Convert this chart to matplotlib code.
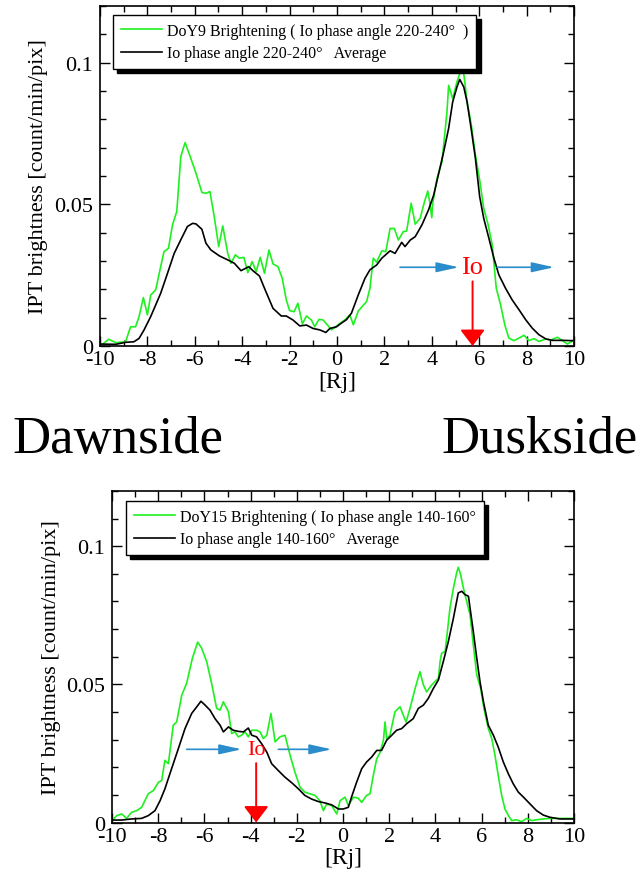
import matplotlib
matplotlib.use('Agg')
import matplotlib.pyplot as plt
from matplotlib.ticker import MultipleLocator, FuncFormatter

plt.rcParams['font.family'] = ['Liberation Serif', 'DejaVu Serif']
plt.rcParams['axes.unicode_minus'] = False

# --- DoY9 panel (Io phase angle 220-240) ---
doy9_x = [-9.98, -9.63, -9.34, -8.92, -8.71, -8.50, -8.35, -8.17, -8.00, -7.86,
          -7.65, -7.44, -7.30, -7.11, -6.94, -6.76, -6.59, -6.41, -6.17, -5.95,
          -5.70, -5.53, -5.36, -5.18, -4.99, -4.82, -4.61, -4.47, -4.29, -4.12,
          -3.93, -3.76, -3.58, -3.41, -3.24, -3.06, -2.87, -2.70, -2.49, -2.31,
          -2.14, -2.00, -1.81, -1.65, -1.46, -1.29, -1.08, -0.94, -0.76, -0.59,
          -0.40, -0.23, -0.05, 0.12, 0.33,
          0.54, 0.69, 0.90, 1.25, 1.39, 1.53, 1.67, 1.89, 2.06, 2.24,
          2.42, 2.59, 2.80, 2.94, 3.13, 3.30, 3.51, 3.69, 3.83, 3.91,
          4.00, 4.03, 4.22, 4.43, 4.64, 4.71, 4.88, 5.06, 5.20, 5.35,
          5.49, 5.67, 5.84, 6.02, 6.19, 6.38, 6.55, 6.72, 6.90, 7.08,
          7.25, 7.46, 7.68, 7.89, 8.10, 8.31, 8.52, 8.81, 9.02, 9.30,
          9.51, 9.72, 9.87, 10.0]
doy9_y = [0.0000, 0.0024, 0.0012, 0.0015, 0.0068, 0.0068, 0.0104, 0.0171, 0.0110, 0.0180,
          0.0198, 0.0280, 0.0333, 0.0345, 0.0428, 0.0475, 0.0669, 0.0718, 0.0663, 0.0610,
          0.0542, 0.0539, 0.0545, 0.0457, 0.0351, 0.0424, 0.0327, 0.0292, 0.0322, 0.0310,
          0.0313, 0.0259, 0.0298, 0.0263, 0.0313, 0.0257, 0.0339, 0.0290, 0.0280, 0.0239,
          0.0163, 0.0125, 0.0121, 0.0151, 0.0078, 0.0106, 0.0092, 0.0068, 0.0094, 0.0092,
          0.0074, 0.0057, 0.0068, 0.0080, 0.0092,
          0.0110, 0.0075, 0.0124, 0.0157, 0.0204, 0.0310, 0.0296, 0.0336, 0.0333, 0.0415,
          0.0415, 0.0374, 0.0404, 0.0406, 0.0504, 0.0430, 0.0451, 0.0509, 0.0547, 0.0509,
          0.0453, 0.0498, 0.0592, 0.0650, 0.0826, 0.0920, 0.0873, 0.0932, 0.0967, 0.0961,
          0.0861, 0.0779, 0.0674, 0.0586, 0.0486, 0.0427, 0.0357, 0.0204, 0.0146, 0.0075,
          0.0028, 0.0019, 0.0028, 0.0038, 0.0019, 0.0026, 0.0016, 0.0025, 0.0021, 0.0031,
          0.0019, 0.0007, 0.0014, 0.0021]

avg220_x = [-9.98, -9.34, -8.92, -8.57, -8.35, -8.14, -7.86, -7.44, -7.15, -6.87,
            -6.59, -6.31, -6.09, -5.95, -5.70, -5.53, -5.32, -4.96, -4.61, -4.33,
            -4.05, -3.72, -3.55, -3.27, -3.06, -2.70, -2.35, -2.14, -1.86, -1.57,
            -1.29, -1.01, -0.73, -0.47, -0.30, -0.02,
            0.19, 0.40, 0.61, 0.90, 1.18, 1.39, 1.67, 1.89, 2.24, 2.45,
            2.73, 2.87, 3.09, 3.30, 3.58, 3.86, 4.08, 4.29, 4.50, 4.71,
            4.88, 5.06, 5.18, 5.35, 5.49, 5.67, 5.84, 6.02, 6.19, 6.41,
            6.62, 6.83, 7.11, 7.39, 7.68, 7.96, 8.24, 8.52, 8.81, 9.09,
            9.51, 9.94]
avg220_y = [0.0007, 0.0006, 0.0013, 0.0015, 0.0027, 0.0057, 0.0104, 0.0186, 0.0257, 0.0327,
            0.0375, 0.0422, 0.0433, 0.0431, 0.0412, 0.0363, 0.0339, 0.0318, 0.0304, 0.0292,
            0.0266, 0.0280, 0.0266, 0.0247, 0.0204, 0.0133, 0.0106, 0.0106, 0.0092, 0.0071,
            0.0074, 0.0062, 0.0057, 0.0048, 0.0062, 0.0068,
            0.0081, 0.0093, 0.0116, 0.0181, 0.0239, 0.0269, 0.0286, 0.0310, 0.0336, 0.0327,
            0.0366, 0.0351, 0.0374, 0.0386, 0.0427, 0.0480, 0.0533, 0.0609, 0.0685, 0.0768,
            0.0861, 0.0914, 0.0941, 0.0914, 0.0861, 0.0762, 0.0662, 0.0527, 0.0451, 0.0380,
            0.0310, 0.0251, 0.0204, 0.0163, 0.0128, 0.0093, 0.0063, 0.0040, 0.0025, 0.0020,
            0.0020, 0.0019]

# --- DoY15 panel (Io phase angle 140-160) ---
doy15_x = [-10.0, -9.80, -9.58, -9.37, -9.15, -8.93, -8.72, -8.43, -8.21, -7.99,
           -7.85, -7.71, -7.56, -7.35, -7.20, -6.98, -6.77, -6.52, -6.29, -6.12,
           -5.90, -5.69, -5.47, -5.32, -5.18, -4.96, -4.82, -4.68, -4.53, -4.39,
           -4.24, -4.10, -3.95, -3.74, -3.59, -3.45, -3.30, -3.12, -2.94, -2.73,
           -2.51, -2.29, -2.08, -1.86, -1.65, -1.43, -1.21, -1.00, -0.85, -0.71,
           -0.49, -0.27, -0.13,
           0.09, 0.23, 0.45, 0.66, 0.81, 1.02, 1.17, 1.31, 1.46, 1.60,
           1.75, 1.82, 1.89, 2.03, 2.25, 2.47, 2.61, 2.73, 2.90, 3.12,
           3.33, 3.48, 3.62, 3.84, 3.98, 4.13, 4.20, 4.27, 4.42, 4.52,
           4.63, 4.78, 4.92, 4.99, 5.09, 5.21, 5.35, 5.50, 5.64, 5.79,
           5.96, 6.10, 6.29, 6.44, 6.58, 6.72, 6.87, 7.01, 7.16, 7.30,
           7.52, 7.73, 7.95, 8.17, 8.38, 8.67, 8.96, 9.39, 9.83, 10.0]
doy15_y = [0.0007, 0.0025, 0.0031, 0.0015, 0.0037, 0.0043, 0.0055, 0.0104, 0.0116, 0.0146,
           0.0152, 0.0225, 0.0213, 0.0352, 0.0364, 0.0461, 0.0504, 0.0595, 0.0653, 0.0631,
           0.0582, 0.0504, 0.0413, 0.0407, 0.0437, 0.0401, 0.0322, 0.0328, 0.0310, 0.0316,
           0.0328, 0.0310, 0.0334, 0.0334, 0.0328, 0.0304, 0.0316, 0.0395, 0.0292, 0.0310,
           0.0316, 0.0243, 0.0182, 0.0128, 0.0110, 0.0104, 0.0098, 0.0079, 0.0043, 0.0067,
           0.0061, 0.0031, 0.0079,
           0.0092, 0.0061, 0.0092, 0.0088, 0.0073, 0.0098, 0.0104, 0.0170, 0.0231, 0.0253,
           0.0298, 0.0364, 0.0304, 0.0316, 0.0401, 0.0419, 0.0388, 0.0364, 0.0413, 0.0485,
           0.0546, 0.0498, 0.0473, 0.0498, 0.0510, 0.0522, 0.0582, 0.0613, 0.0619, 0.0692,
           0.0776, 0.0849, 0.0904, 0.0924, 0.0898, 0.0849, 0.0801, 0.0752, 0.0643, 0.0534,
           0.0485, 0.0413, 0.0340, 0.0304, 0.0243, 0.0170, 0.0098, 0.0049, 0.0025, 0.0007,
           0.0010, 0.0003, 0.0015, 0.0007, 0.0010, 0.0013, 0.0015, 0.0015, 0.0015, 0.0015]

avg140_x = [-10.0, -9.58, -9.15, -8.72, -8.43, -8.14, -7.92, -7.71, -7.42, -7.13,
            -6.84, -6.55, -6.33, -6.15, -5.97, -5.76, -5.54, -5.32, -5.18, -4.96,
            -4.75, -4.53, -4.31, -4.10, -3.95, -3.74, -3.52, -3.30, -3.09, -2.80,
            -2.51, -2.22, -1.93, -1.65, -1.36, -1.07, -0.78, -0.49, -0.20, 0.01,
            0.23,
            0.38, 0.59, 0.81, 1.02, 1.24, 1.46, 1.67, 1.89, 2.11, 2.32,
            2.54, 2.76, 3.04, 3.26, 3.48, 3.69, 3.91, 4.13, 4.34, 4.56,
            4.78, 4.99, 5.14, 5.28, 5.43, 5.50, 5.64, 5.79, 5.93, 6.08,
            6.29, 6.51, 6.72, 6.94, 7.16, 7.37, 7.59, 7.81, 8.10, 8.38,
            8.67, 8.96, 9.39, 9.83, 10.0]
avg140_y = [0.0009, 0.0009, 0.0013, 0.0015, 0.0025, 0.0043, 0.0079, 0.0122, 0.0195, 0.0267,
            0.0340, 0.0395, 0.0419, 0.0439, 0.0425, 0.0407, 0.0376, 0.0352, 0.0328, 0.0346,
            0.0334, 0.0330, 0.0328, 0.0342, 0.0316, 0.0310, 0.0285, 0.0255, 0.0213, 0.0188,
            0.0164, 0.0144, 0.0122, 0.0098, 0.0085, 0.0076, 0.0071, 0.0064, 0.0049, 0.0049,
            0.0055,
            0.0095, 0.0146, 0.0195, 0.0219, 0.0237, 0.0261, 0.0261, 0.0298, 0.0316, 0.0334,
            0.0340, 0.0358, 0.0376, 0.0413, 0.0425, 0.0449, 0.0485, 0.0516, 0.0582, 0.0655,
            0.0740, 0.0831, 0.0837, 0.0825, 0.0819, 0.0776, 0.0692, 0.0595, 0.0510, 0.0437,
            0.0352, 0.0316, 0.0273, 0.0219, 0.0176, 0.0140, 0.0110, 0.0092, 0.0067, 0.0043,
            0.0027, 0.0019, 0.0013, 0.0013, 0.0013]

# Io position and motion arrows
io_top_x = 5.72
io_bottom_x = -3.76
motion_top = [(2.66, 5.14), (6.76, 9.16)]
motion_bottom = [(-6.77, -4.39), (-2.80, -0.49)]
motion_top_y = 0.0278
motion_bottom_y = 0.0265

labels_top = ['DoY9 Brightening ( Io phase angle 220-240°  )', 'Io phase angle 220-240°   Average']
labels_bottom = ['DoY15 Brightening ( Io phase angle 140-160°', 'Io phase angle 140-160°   Average']

GREEN = '#1ff01f'
BLUE = '#2a8ccb'


def setup_axes(ax):
    ax.set_xlim(-10, 10)
    ax.set_ylim(0, 0.12)
    ax.xaxis.set_major_locator(MultipleLocator(2))
    ax.xaxis.set_minor_locator(MultipleLocator(1))
    ax.yaxis.set_major_locator(MultipleLocator(0.05))
    ax.yaxis.set_minor_locator(MultipleLocator(0.01))
    ax.yaxis.set_major_formatter(FuncFormatter(lambda v, p: '%g' % round(v, 3)))
    ax.tick_params(which='both', direction='in', top=True, right=True, labelsize=16, width=1)
    ax.tick_params(axis='x', pad=3)
    ax.tick_params(axis='y', pad=5)
    ax.tick_params(which='major', length=7)
    ax.tick_params(which='minor', length=4)
    for s in ax.spines.values():
        s.set_linewidth(1.2)
    ax.set_xlabel('[Rj]', fontsize=17, labelpad=1)
    ax.set_ylabel('IPT brightness [count/min/pix]', fontsize=16, labelpad=4)


def add_legend(ax, anchor):
    leg = ax.legend(loc='upper left', bbox_to_anchor=anchor, borderaxespad=0,
                    fontsize=11.5, fancybox=False, edgecolor='black', framealpha=1,
                    shadow={'color': 'black', 'ox': 3, 'oy': -3, 'alpha': 1},
                    handlelength=2.6, borderpad=0.5, labelspacing=0.4, handletextpad=0.3)
    leg.get_frame().set_linewidth(1.0)


def add_io(ax, x_io, arrows, y, fs):
    for x0, x1 in arrows:
        ax.annotate('', xy=(x1, y), xytext=(x0, y),
                    arrowprops=dict(arrowstyle='-|>,head_length=0.9,head_width=0.2',
                                    color=BLUE, lw=1.2, shrinkA=0, shrinkB=0,
                                    mutation_scale=15))
    ax.text(x_io, y, 'Io', color='red', fontsize=fs, ha='center', va='center')
    ax.annotate('', xy=(x_io, 0), xytext=(x_io, y - 0.005),
                arrowprops=dict(arrowstyle='-|>,head_length=0.5,head_width=0.38',
                                color='red', lw=1.4, shrinkA=0, shrinkB=0,
                                mutation_scale=20))


fig = plt.figure(figsize=(6.43, 8.79), dpi=100)

# Top panel
ax1 = fig.add_axes([0.1555, 0.6052, 0.7372, 0.3868])
ax1.plot(doy9_x, doy9_y, color=GREEN, lw=1.2, label=labels_top[0])
ax1.plot(avg220_x, avg220_y, color='black', lw=1.2, label=labels_top[1])
setup_axes(ax1)
add_legend(ax1, (0.027, 0.974))
add_io(ax1, io_top_x, motion_top, motion_top_y, 19)

# Bottom panel
ax2 = fig.add_axes([0.1742, 0.0631, 0.7185, 0.3772])
ax2.plot(doy15_x, doy15_y, color=GREEN, lw=1.2, label=labels_bottom[0])
ax2.plot(avg140_x, avg140_y, color='black', lw=1.2, label=labels_bottom[1])
setup_axes(ax2)
add_legend(ax2, (0.030, 0.970))
add_io(ax2, io_bottom_x, motion_bottom, motion_bottom_y, 16)

# Side labels
fig.text(12 / 643, 1 - 453 / 879, 'Dawnside', fontsize=38, ha='left', va='baseline')
fig.text(638 / 643, 1 - 453 / 879, 'Duskside', fontsize=38, ha='right', va='baseline')

fig.savefig('out.png', dpi=100)
